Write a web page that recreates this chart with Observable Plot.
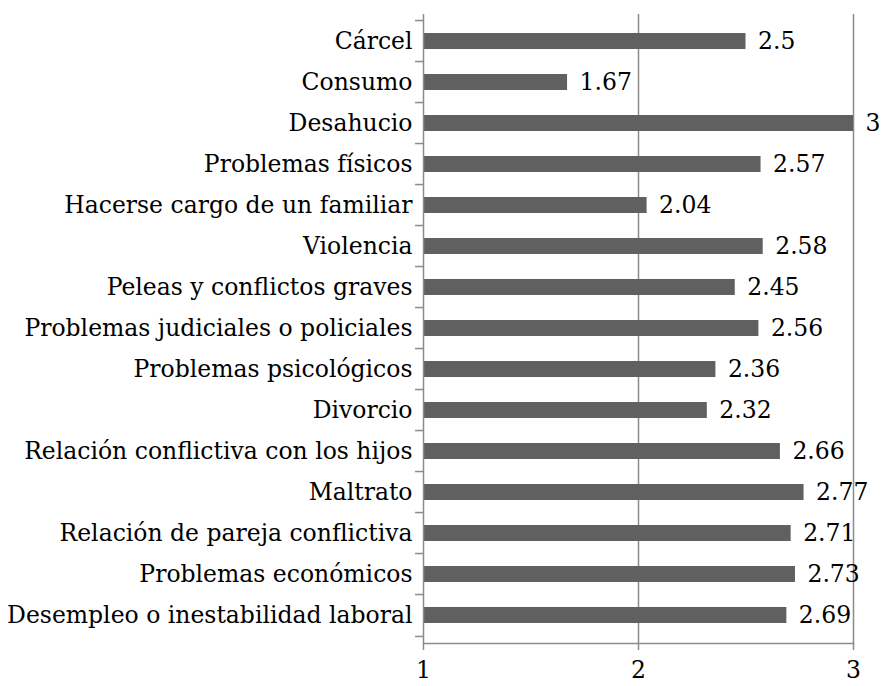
<!DOCTYPE html>
<html>
<head>
<meta charset="utf-8">
<script src="https://cdn.jsdelivr.net/npm/d3@7"></script>
<script src="https://cdn.jsdelivr.net/npm/@observablehq/plot@0.6"></script>
<style>
  html, body { margin: 0; padding: 0; background: #fff; }
</style>
</head>
<body>
<div id="chart"></div>
<script>
const categories = [
  "Cárcel",
  "Consumo",
  "Desahucio",
  "Problemas físicos",
  "Hacerse cargo de un familiar",
  "Violencia",
  "Peleas y conflictos graves",
  "Problemas judiciales o policiales",
  "Problemas psicológicos",
  "Divorcio",
  "Relación conflictiva con los hijos",
  "Maltrato",
  "Relación de pareja conflictiva",
  "Problemas económicos",
  "Desempleo o inestabilidad laboral"
];
const values = [2.5, 1.67, 3, 2.57, 2.04, 2.58, 2.45, 2.56, 2.36, 2.32, 2.66, 2.77, 2.71, 2.73, 2.69];
const xTicks = [1, 2, 3];

const data = categories.map((c, i) => ({category: c, value: values[i]}));

const W = 882, H = 686;
const mTop = 14, mBottom = 43, mLeft = 423, mRight = 29;
const step = (H - mTop - mBottom) / categories.length;
const axisColor = "#8c8c8c";
const font = "DejaVu Serif";
const fs = 23.5;

const chart = Plot.plot({
  width: W,
  height: H,
  marginTop: mTop,
  marginBottom: mBottom,
  marginLeft: mLeft,
  marginRight: mRight,
  style: {fontFamily: font, fontSize: fs + "px", color: "#000", background: "#fff", overflow: "visible"},
  x: {domain: [1, 3]},
  y: {domain: categories, paddingInner: 0.6, paddingOuter: 0.3},
  marks: [
    // vertical gridlines
    Plot.ruleX([2, 3], {stroke: axisColor, strokeWidth: 1.5}),
    // bars
    Plot.barX(data, {y: "category", x1: 1, x2: "value", fill: "#606060"}),
    // left axis line
    Plot.ruleX([1], {stroke: axisColor, strokeWidth: 1.5}),
    // bottom axis line
    Plot.frame({anchor: "bottom", stroke: axisColor, strokeWidth: 1.5}),
    // category boundary ticks
    Plot.ruleY(categories, {y: d => d, x1: 0.963, x2: 1, dy: -step / 2, stroke: axisColor, strokeWidth: 1.5}),
    Plot.ruleY([categories[categories.length - 1]], {y: d => d, x1: 0.963, x2: 1, dy: step / 2, stroke: axisColor, strokeWidth: 1.5}),
    // axes
    Plot.axisX({ticks: xTicks, tickSize: 7, tickPadding: 11, stroke: axisColor, strokeWidth: 1.5, strokeOpacity: 1, fontSize: fs, fill: "#000", tickFormat: d => String(d), label: null}),
    Plot.axisY({tickSize: 0, tickPadding: 11, fontSize: fs, fill: "#000", label: null}),
    // value labels
    Plot.text(data, {y: "category", x: "value", text: d => String(d.value), textAnchor: "start", dx: 12, fontSize: fs, fill: "#000"})
  ]
});

document.getElementById("chart").appendChild(chart);
</script>
</body>
</html>
